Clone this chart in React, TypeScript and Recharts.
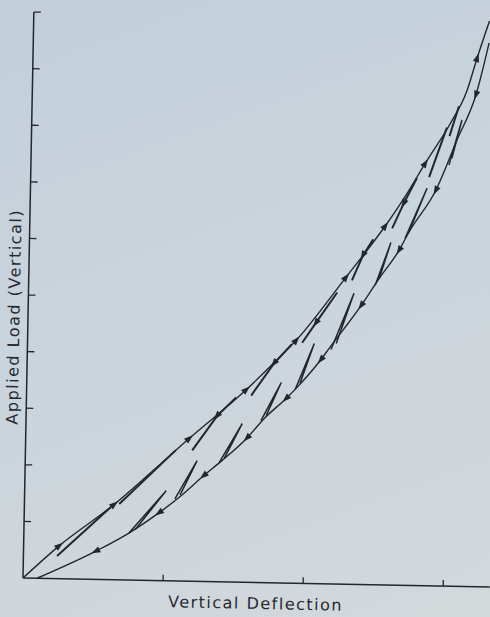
import { ComposedChart, Line, XAxis, YAxis } from 'recharts'

type Pt = { x: number; y: number }

const xTicks = [3, 6, 9]
const yTicks = [1, 2, 3, 4, 5, 6, 7, 8, 9, 10]

// loading path, origin up to the top right
const loading: Pt[] = [
  { x: 0, y: 0 }, { x: 0.76, y: 0.58 }, { x: 1.92, y: 1.33 }, { x: 2.66, y: 1.88 },
  { x: 3.5, y: 2.52 }, { x: 4.7, y: 3.4 }, { x: 5.29, y: 3.89 }, { x: 5.75, y: 4.29 },
  { x: 6.79, y: 5.42 }, { x: 7.61, y: 6.34 }, { x: 8.04, y: 6.89 }, { x: 8.44, y: 7.46 },
  { x: 8.98, y: 8.2 }, { x: 9.29, y: 8.72 }, { x: 9.51, y: 9.34 }, { x: 9.76, y: 10 },
]
const loadingArrows = [1, 2, 4, 5, 7, 8, 9, 11, 14]

// unloading path (listed from the origin, arrows point back down)
const unloading: Pt[] = [
  { x: 0.3, y: 0 }, { x: 1.55, y: 0.5 }, { x: 2.25, y: 0.83 }, { x: 2.89, y: 1.2 },
  { x: 3.37, y: 1.52 }, { x: 3.83, y: 1.87 }, { x: 4.21, y: 2.14 }, { x: 4.74, y: 2.55 },
  { x: 5.1, y: 2.9 }, { x: 5.56, y: 3.26 }, { x: 5.79, y: 3.46 }, { x: 6.29, y: 3.96 },
  { x: 6.46, y: 4.16 }, { x: 7.13, y: 4.93 }, { x: 7.5, y: 5.41 }, { x: 7.92, y: 5.92 },
  { x: 8.12, y: 6.24 }, { x: 8.68, y: 6.99 }, { x: 9.11, y: 7.88 }, { x: 9.5, y: 8.69 },
  { x: 9.76, y: 9.61 },
]
const unloadingArrows = [1, 3, 5, 7, 9, 11, 13, 15, 17, 19]

// small return lines just under the loading path (top -> bottom)
const returnLines: Pt[][] = [
  [{ x: 1.85, y: 1.28 }, { x: 0.72, y: 0.4 }],
  [{ x: 3.22, y: 2.31 }, { x: 2.03, y: 1.34 }],
  [{ x: 4.49, y: 3.26 }, { x: 4.09, y: 2.93 }, { x: 3.57, y: 2.31 }],
  [{ x: 5.66, y: 4.22 }, { x: 5.29, y: 3.88 }, { x: 4.81, y: 3.3 }],
  [{ x: 6.61, y: 5.15 }, { x: 6.17, y: 4.61 }, { x: 5.88, y: 4.25 }],
  [{ x: 7.36, y: 6.1 }, { x: 7.15, y: 5.82 }, { x: 6.92, y: 5.37 }],
  [{ x: 8.27, y: 7.2 }, { x: 8.0, y: 6.75 }, { x: 7.76, y: 6.3 }],
  [{ x: 8.89, y: 8.1 }, { x: 8.53, y: 7.22 }],
  [{ x: 9.14, y: 8.48 }, { x: 8.95, y: 7.95 }],
]

// reload spikes off the unloading path
const spikes: Pt[][] = [
  [{ x: 2.25, y: 0.83 }, { x: 3.03, y: 1.59 }, { x: 2.38, y: 0.89 }],
  [{ x: 3.22, y: 1.45 }, { x: 3.68, y: 2.13 }, { x: 3.33, y: 1.52 }],
  [{ x: 4.15, y: 2.1 }, { x: 4.63, y: 2.8 }, { x: 4.26, y: 2.18 }],
  [{ x: 5.03, y: 2.86 }, { x: 5.45, y: 3.54 }, { x: 5.14, y: 2.95 }],
  [{ x: 5.75, y: 3.42 }, { x: 6.14, y: 4.24 }, { x: 5.85, y: 3.53 }],
  [{ x: 6.5, y: 4.14 }, { x: 6.97, y: 5.14 }, { x: 6.61, y: 4.25 }],
  [{ x: 7.42, y: 5.29 }, { x: 7.74, y: 6.05 }, { x: 7.5, y: 5.4 }],
  [{ x: 8.04, y: 6.13 }, { x: 8.49, y: 7.02 }, { x: 8.12, y: 6.24 }],
  [{ x: 8.95, y: 7.44 }, { x: 9.21, y: 8.24 }, { x: 9.01, y: 7.56 }],
]

const INK = '#23272d'
const PX_X = 46.6
const PX_Y = 56.5

function arrowDot(data: Pt[], marks: number[], dir = 1) {
  return (props: any) => {
    const { cx, cy, index } = props
    if (!marks.includes(index) || cx == null) return <g key={`n${index}`} />
    const a = data[index - dir] ?? data[index]
    const b = data[index + dir] ?? data[index]
    const ang = (Math.atan2(-(b.y - a.y) * PX_Y, (b.x - a.x) * PX_X) * 180) / Math.PI
    return (
      <path
        key={`a${index}`}
        d="M5,0 L-4,-3.2 L-4,3.2 Z"
        transform={`translate(${cx},${cy}) rotate(${ang})`}
        fill={INK}
      />
    )
  }
}

const labelFont = { fontFamily: '"DejaVu Sans", sans-serif', fontSize: 16, color: '#262a30', letterSpacing: 1.5 }

export default function App() {
  return (
    <div
      style={{
        position: 'fixed', left: 0, top: 0, width: 490, height: 617, overflow: 'hidden',
        background: 'linear-gradient(160deg, #c2cfda 0%, #cad4dc 45%, #d3d8db 100%)',
      }}
    >
      <div style={{ position: 'absolute', left: 0, top: 0, width: 490, height: 617, transform: 'rotate(1.1deg)', transformOrigin: '24px 577px' }}>
        <ComposedChart width={490} height={617} margin={{ top: 12, right: 0, bottom: 39, left: 23 }}>
          <XAxis type="number" dataKey="x" domain={[0, 10]} ticks={xTicks} allowDataOverflow
                 height={1} mirror tickSize={6} tickFormatter={() => ''}
                 axisLine={{ stroke: INK, strokeWidth: 1.5 }} tickLine={{ stroke: INK, strokeWidth: 1.3 }} />
          <YAxis type="number" dataKey="y" domain={[0, 10]} ticks={yTicks} allowDataOverflow
                 width={1} mirror tickSize={7} tickFormatter={() => ''}
                 axisLine={{ stroke: INK, strokeWidth: 1.5 }} tickLine={{ stroke: INK, strokeWidth: 1.3 }} />
          <Line data={loading} dataKey="y" type="monotone" stroke={INK} strokeWidth={1.4}
                dot={arrowDot(loading, loadingArrows)} activeDot={false} isAnimationActive={false} />
          <Line data={unloading} dataKey="y" type="monotone" stroke={INK} strokeWidth={1.4}
                dot={arrowDot(unloading, unloadingArrows, -1)} activeDot={false} isAnimationActive={false} />
          {returnLines.map((seg, i) => (
            <Line key={`r${i}`} data={seg} dataKey="y" type="linear" stroke={INK} strokeWidth={2}
                  dot={arrowDot(seg, seg.length > 2 ? [1] : [])} activeDot={false} isAnimationActive={false} />
          ))}
          {spikes.map((seg, i) => (
            <Line key={`s${i}`} data={seg} dataKey="y" type="linear" stroke={INK} strokeWidth={1.5}
                  dot={false} activeDot={false} isAnimationActive={false} />
          ))}
        </ComposedChart>
        <div style={{ ...labelFont, position: 'absolute', left: 9, top: 317, whiteSpace: 'nowrap',
                      transform: 'translate(-50%, -50%) rotate(-90deg)' }}>
          Applied Load (Vertical)
        </div>
        <div style={{ ...labelFont, position: 'absolute', left: 256, top: 599, whiteSpace: 'nowrap',
                      transform: 'translate(-50%, -50%)' }}>
          Vertical Deflection
        </div>
      </div>
    </div>
  )
}
